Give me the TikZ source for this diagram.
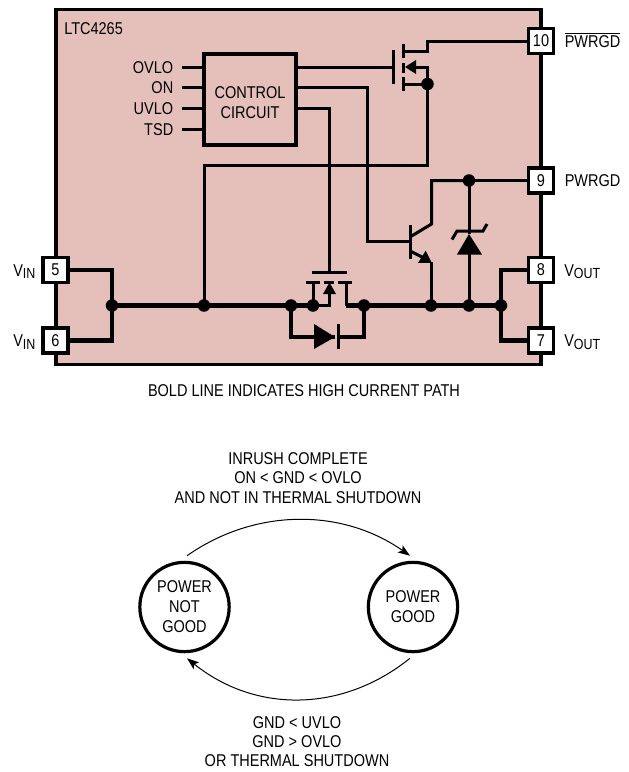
\documentclass[tikz,border=0pt]{standalone}
\usepackage{fontspec}
\setmainfont[FakeStretch=0.85]{Liberation Sans}
\usetikzlibrary{arrows.meta}
\newcommand{\subt}[1]{\raisebox{-2.2pt}{\fontsize{11pt}{12pt}\selectfont #1}}
\tikzset{
 x=0.75pt,y=-0.75pt,
 chip/.style={draw=black,fill=chippink,line width=2.4pt},
 pin/.style={draw=black,fill=white,line width=2.7pt,minimum size=18.5pt,inner sep=0pt,font=\fontsize{12.8pt}{14pt}\selectfont},
 dot/.style={circle,fill=black,minimum size=9.4pt,inner sep=0pt},
 wire/.style={line width=2.25pt,line cap=butt,line join=miter},
 bold/.style={line width=3.6pt,line cap=butt,line join=miter},
 txt/.style={font=\fontsize{12.8pt}{14pt}\selectfont,inner sep=0pt,anchor=base},
 txtl/.style={txt,anchor=base west},
 txtr/.style={txt,anchor=base east},
 state/.style={circle,draw=black,line width=2.4pt,minimum size=67pt,inner sep=0pt,align=center,font=\fontsize{12.8pt}{15pt}\selectfont},
 arc/.style={line width=0.75pt,-{Stealth[length=9pt,width=6.5pt,inset=2pt]}}
}
\definecolor{chippink}{HTML}{E5BFBA}
\begin{document}
\begin{tikzpicture}
\useasboundingbox (0,0) rectangle (629,772);
% chip
\node[chip,minimum width=363.75pt,minimum height=266.5pt,inner sep=0pt] (ic) at (298.5,187) {};
\node[txtl] (name) at (64,34) {LTC4265};
% control block
\node[draw=black,line width=2.4pt,minimum width=69pt,minimum height=68.25pt,inner sep=0pt] (ctl) at (250,99.5) {};
\node[txt] (ctla) at (250,98) {CONTROL};
\node[txt] (ctlb) at (250,118) {CIRCUIT};
% control inputs
\coordinate (s1) at (182,67); \coordinate (s2) at (182,87); \coordinate (s3) at (182,108); \coordinate (s4) at (182,129);
\coordinate (e1) at (204,67); \coordinate (e2) at (204,87); \coordinate (e3) at (204,108); \coordinate (e4) at (204,129);
\draw[wire] (s1)--(e1) (s2)--(e2) (s3)--(e3) (s4)--(e4);
\node[txtr] (l1) at (173.5,73) {OVLO};
\node[txtr] (l2) at (173.5,93) {ON};
\node[txtr] (l3) at (173.5,114) {UVLO};
\node[txtr] (l4) at (173.5,135) {TSD};
% pins
\node[pin] (p5) at (55.5,270) {5};
\node[pin] (p6) at (55.5,340.5) {6};
\node[pin] (p10) at (541,41) {10};
\node[pin] (p9) at (541,180.5) {9};
\node[pin] (p8) at (541,270) {8};
\node[pin] (p7) at (541,340.5) {7};
\node[txtl] (v5) at (13,276) {V\subt{IN}};
\node[txtl] (v6) at (13,346.5) {V\subt{IN}};
\node[txtl] (v8) at (564,276) {V\subt{OUT}};
\node[txtl] (v7) at (564,346.5) {V\subt{OUT}};
\node[txtl] (pg) at (564.5,186.5) {PWRGD};
\node[txtl] (pgb) at (564.5,47) {$\overline{\hbox{PWRGD}}$};
% junctions
\node[dot] (jl) at (112,305.5) {};
\node[dot] (ja) at (204,305.5) {};
\node[dot] (jb) at (291,305.5) {};
\node[dot] (jc) at (313,305.5) {};
\node[dot] (jd) at (364,305.5) {};
\node[dot] (je) at (431,305.5) {};
\node[dot] (jf) at (469,305.5) {};
\node[dot] (jr) at (501,305.5) {};
\node[dot] (jt) at (469,180.5) {};
\node[dot] (jm) at (427.5,84) {};
% bold path
\draw[bold] (p5.east) -| (jl.center) (p6.east) -| (jl.center);
\draw[bold] (p8.west) -| (jr.center) (p7.west) -| (jr.center);
\draw[bold] (jl.center)--(jc.center);
\coordinate (mr) at (346,305.5);
\draw[bold] (mr)--(jr.center);
% body diode
\coordinate (dbar) at (338,337);
\coordinate (dtip) at (335,337);
\draw[bold] (jb.center) |- (dtip);
\draw[bold] (jd.center) |- (dbar);
\fill (314,324)--(dtip)--(314,349)--cycle;
\draw[line width=2.25pt] (338,324)--(338,349);
% lower MOSFET
\coordinate (lg) at (329,272);
\draw[wire] (311.5,272)--(347,272);
\draw[wire] (306,282)--(320,282);
\draw[wire] (324,282)--(334,282);
\draw[wire] (338,282)--(352,282);
\draw[wire] (jc.center)--(313,282);
\draw[wire] (jc.center)--(329.5,305.5)--(329.5,290);
\fill (329.5,282.5)--(336,294)--(323,294)--cycle;
\draw[wire] (mr)--(346,282);
\draw[wire] (ctl.east|-e3) -| (lg);
% upper MOSFET
\draw[wire] (ctl.east|-e1) -- (393,67);
\draw[wire] (393,50)--(393,84);
\draw[wire] (403,44)--(403,58);
\draw[wire] (403,63)--(403,73);
\draw[wire] (403,77)--(403,91);
\draw[wire] (403,51)--(427.5,51)--(427.5,41)--(p10.west);
\draw[wire] (403,84)--(jm.center);
\fill (405,67)--(416,60)--(416,74)--cycle;
\draw[wire] (414,67)--(427.5,67)--(jm.center);
\draw[wire] (jm.center)--(427.5,165)--(204,165)--(ja.center);
% BJT
\draw[wire] (ctl.east|-e2) -- (367,87)--(367,241.5)--(410,241.5);
\draw[wire] (410,225)--(410,259);
\draw[wire] (410,237)--(431.5,224)--(431.5,180.5)--(jt.center);
\draw[wire] (jt.center)--(p9.west);
\draw[wire] (410,251)--(424,258);
\fill (425.7,250.7)--(418,263)--(431.7,262.7)--cycle;
\draw[wire] (431,262)--(je.center);
% zener
\draw[wire] (jt.center)--(469,234);
\fill (469,234)--(482,254.5)--(457,254.5)--cycle;
\draw[wire] (469,254)--(jf.center);
\draw[wire] (452,239.5)--(457,231)--(483,231)--(487,224);
% note
\node[txt] (note) at (304,396) {BOLD LINE INDICATES HIGH CURRENT PATH};
% state diagram
\node[state] (cl) at (184.5,607) {POWER\\NOT\\GOOD};
\node[state] (cr) at (413,607) {POWER\\GOOD};
\draw[arc] ([shift={(2.5,-5)}]cl.north) .. controls (255,508) and (342,508) .. ([shift={(-3,-5)}]cr.north);
\draw[arc] ([shift={(-3,5)}]cr.south) .. controls (342,713) and (255,713) .. ([shift={(2.5,5)}]cl.south);
\node[txt] (t1) at (298,464) {INRUSH COMPLETE};
\node[txt] (t2) at (298,483) {ON < GND < OVLO};
\node[txt] (t3) at (298,503) {AND NOT IN THERMAL SHUTDOWN};
\node[txt] (b1) at (297,728) {GND < UVLO};
\node[txt] (b2) at (297,747) {GND > OVLO};
\node[txt] (b3) at (297,766) {OR THERMAL SHUTDOWN};
\end{tikzpicture}
\end{document}
